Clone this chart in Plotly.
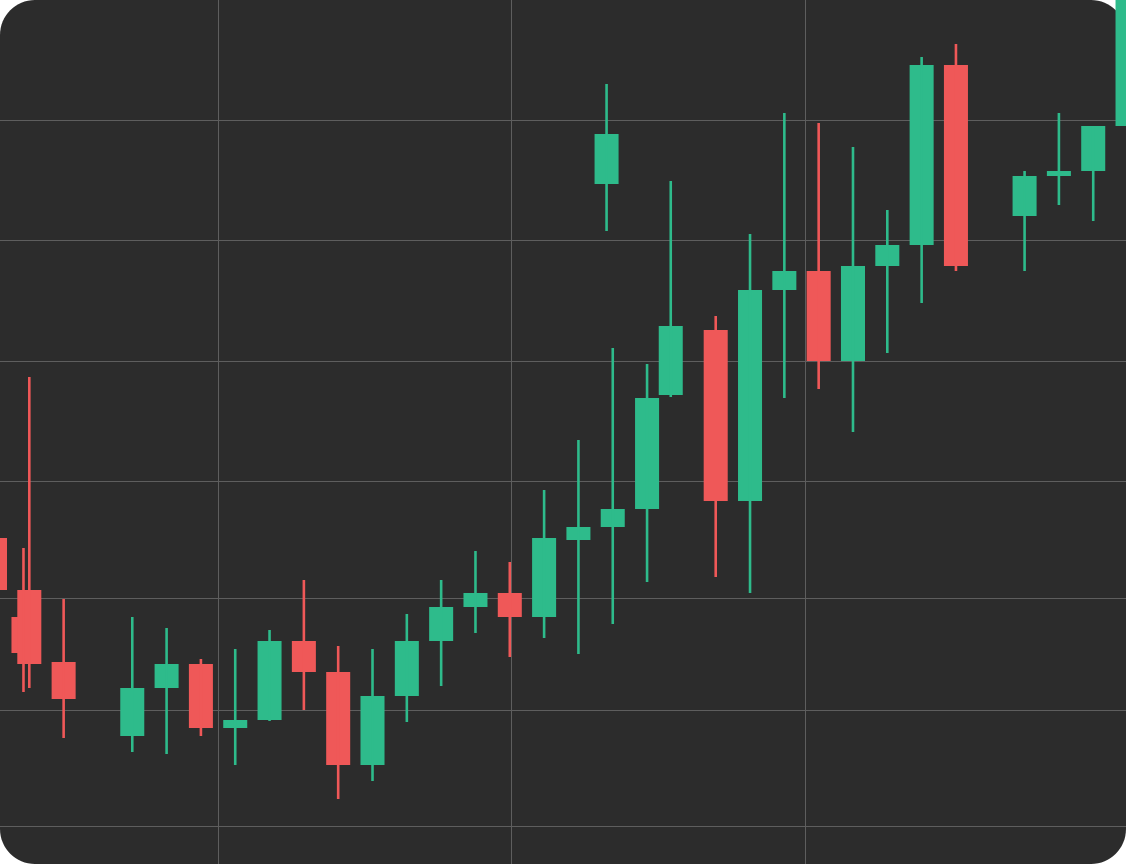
import plotly.graph_objects as go

# Session index of each candle (fractional values = overlapping candles)
sessions = [-1, -0.17, 0, 1, 3, 4, 5, 6, 7, 8, 9, 10, 11, 12, 13, 14, 15, 16, 17,
            16.82, 18, 18.69, 20, 21, 22, 23, 24, 25, 26, 27, 29, 30, 31, 32]
opens = [214.4, 210.45, 211.8, 208.2, 204.5, 206.9, 208.1, 204.9, 205.3, 209.25,
         207.7, 203.05, 206.5, 209.25, 210.95, 211.65, 210.45, 214.3, 214.95,
         232.1, 215.85, 221.55, 224.8, 216.25, 226.8, 227.75, 223.25, 228.0,
         229.05, 238.05, 230.5, 232.5, 232.75, 235.0]
highs = [215.05, 213.9, 222.45, 211.35, 210.45, 209.9, 208.35, 208.85, 209.8, 212.3,
         209.0, 208.85, 210.6, 212.3, 213.75, 213.2, 216.8, 219.3, 223.9,
         237.1, 223.1, 232.25, 225.5, 229.6, 235.65, 235.15, 233.95, 230.8,
         238.45, 239.1, 232.75, 235.65, 235.0, 243.0]
lows = [211.3, 206.7, 206.9, 204.4, 203.7, 203.6, 204.5, 203.05, 205.25, 205.8,
        201.35, 202.25, 205.2, 207.0, 209.65, 208.45, 209.4, 208.6, 210.1,
        229.75, 212.2, 221.45, 212.45, 211.65, 221.4, 221.85, 219.7, 223.65,
        226.15, 227.75, 227.75, 231.05, 230.25, 234.5]
closes = [211.8, 208.65, 208.1, 206.35, 206.9, 208.1, 204.9, 205.3, 209.25, 207.7,
          203.05, 206.5, 209.25, 210.95, 211.65, 210.45, 214.4, 214.95, 215.85,
          234.6, 221.4, 225.0, 216.25, 226.8, 227.75, 223.25, 228.0, 229.05,
          238.05, 228.0, 232.5, 232.75, 235.0, 242.0]

# Grid positions
x_grid = [5.5, 14.06, 22.63]
y_grid = [200.0, 205.8, 211.4, 217.225, 223.225, 229.275, 235.3]

UP = "#2ebb8b"
DOWN = "#ef5858"
BG = "#2c2c2c"
GRID = "#5e5e5e"

colors = [UP if c >= o else DOWN for o, c in zip(opens, closes)]

fig = go.Figure()

# wicks
for clr in (UP, DOWN):
    wx, wy = [], []
    for s, h, l, col in zip(sessions, highs, lows, colors):
        if col == clr:
            wx += [s, s, None]
            wy += [l, h, None]
    fig.add_trace(go.Scatter(x=wx, y=wy, mode="lines",
                             line=dict(color=clr, width=2.6),
                             hoverinfo="skip", showlegend=False))

# bodies
fig.add_trace(go.Bar(
    x=sessions,
    base=[min(o, c) for o, c in zip(opens, closes)],
    y=[abs(c - o) for o, c in zip(opens, closes)],
    width=0.7,
    marker=dict(color=colors, line=dict(width=0)),
    showlegend=False,
))

# rounded card background (circular corners via cubic Bezier)
r = 35
W, H = 1126, 864
rx, ry = r / W, r / H
k = 0.5523
cx, cy = rx * (1 - k), ry * (1 - k)
path = (f"M {rx},0 L {1-rx},0 C {1-cx},0 1,{cy} 1,{ry} "
        f"L 1,{1-ry} C 1,{1-cy} {1-cx},1 {1-rx},1 "
        f"L {rx},1 C {cx},1 0,{1-cy} 0,{1-ry} "
        f"L 0,{ry} C 0,{cy} {cx},0 {rx},0 Z")

fig.update_layout(
    width=W, height=H,
    margin=dict(l=0, r=0, t=0, b=0),
    paper_bgcolor="white",
    plot_bgcolor="rgba(0,0,0,0)",
    barmode="overlay",
    showlegend=False,
    shapes=[dict(type="path", path=path, xref="paper", yref="paper",
                 fillcolor=BG, line=dict(width=0), layer="below")],
    xaxis=dict(range=[-0.854, 31.955], tickvals=x_grid, showticklabels=False,
               showgrid=True, gridcolor=GRID, gridwidth=1, zeroline=False,
               showline=False, ticks=""),
    yaxis=dict(range=[198.1, 241.3], tickvals=y_grid, showticklabels=False,
               showgrid=True, gridcolor=GRID, gridwidth=1, zeroline=False,
               showline=False, ticks=""),
)

fig.write_html(
    "out.html",
    config={"displayModeBar": False},
    post_script="document.body.style.margin='0';document.body.style.overflow='hidden';",
)
